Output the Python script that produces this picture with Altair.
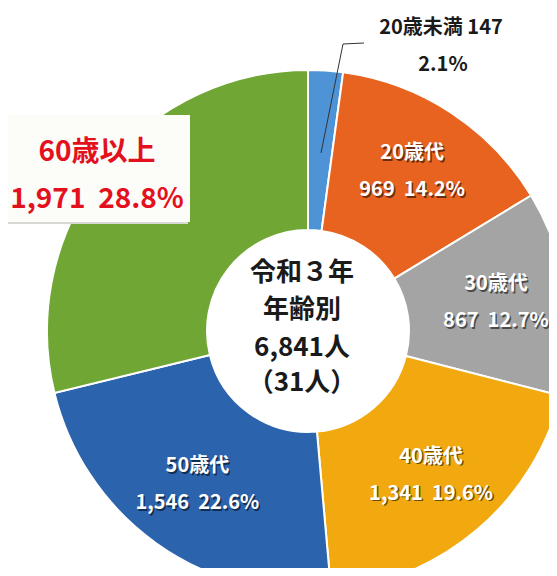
import altair as alt
import pandas as pd

categories = ["20歳未満", "20歳代", "30歳代", "40歳代", "50歳代", "60歳以上"]
counts = [147, 969, 867, 1341, 1546, 1971]
percents = ["2.1%", "14.2%", "12.7%", "19.6%", "22.6%", "28.8%"]
colors = ["#4E93D6", "#E8631F", "#A4A4A4", "#F1A90F", "#2C63AD", "#70A634"]
center_lines = ["令和３年", "年齢別", "6,841人", "（31人）"]

FONT = "Noto Sans CJK JP"
CX, CY = 300, 323
GAP = "\u00a0\u00a0"

outside = {"20歳未満", "60歳以上"}
df = pd.DataFrame({
    "cat": categories,
    "n": counts,
    "pct": percents,
    "order": list(range(len(categories))),
})
df["line1"] = ["" if c in outside else c for c in categories]
df["line2"] = ["" if c in outside else f"{n:,}{GAP}{p}" for c, n, p in zip(categories, counts, percents)]

base = alt.Chart(df).encode(
    theta=alt.Theta("n:Q", stack=True),
    order=alt.Order("order:Q"),
    x=alt.value(CX),
    y=alt.value(CY),
)

arcs = base.mark_arc(outerRadius=261, innerRadius=101, stroke="white", strokeWidth=2).encode(
    color=alt.Color("cat:N", scale=alt.Scale(domain=categories, range=colors), legend=None)
)

def slice_text(field, dy, fill, off=0):
    return base.mark_text(
        radius=190, dy=dy + off, dx=off, font=FONT, fontSize=20, fontWeight="bold", fill=fill
    ).encode(text=f"{field}:N")

shadow1 = slice_text("line1", -19, "rgba(0,0,0,0.55)", 1.5)
shadow2 = slice_text("line2", 18, "rgba(0,0,0,0.55)", 1.5)
text1 = slice_text("line1", -19, "white")
text2 = slice_text("line2", 18, "white")

one = pd.DataFrame({"a": [0]})

box = alt.Chart(one).mark_rect(fill="#FCFCF8").encode(
    x=alt.value(0), x2=alt.value(182), y=alt.value(107), y2=alt.value(214)
)
box_shadow = alt.Chart(one).mark_rect(fill="#D9D9D4").encode(
    x=alt.value(0), x2=alt.value(180), y=alt.value(212), y2=alt.value(216)
)

lead1 = alt.Chart(one).mark_rule(color="#333333", strokeWidth=1).encode(
    x=alt.value(313), y=alt.value(145), x2=alt.value(335), y2=alt.value(36)
)
lead2 = alt.Chart(one).mark_rule(color="#333333", strokeWidth=1).encode(
    x=alt.value(335), y=alt.value(36), x2=alt.value(356), y2=alt.value(35)
)


def label(text, x, y, size, color):
    return alt.Chart(pd.DataFrame({"t": [text]})).mark_text(
        font=FONT, fontSize=size, fontWeight="bold", color=color, baseline="middle"
    ).encode(text="t:N", x=alt.value(x), y=alt.value(y))


i0 = 0
i5 = len(categories) - 1
small1 = label(f"{categories[i0]} {counts[i0]}", 433, 20, 20, "#1a1a1a")
small2 = label(percents[i0], 435, 57, 20, "#1a1a1a")
big1 = label(categories[i5], 89, 145, 28, "#E3101E")
big2 = label(f"{counts[i5]:,}{GAP}{percents[i5]}", 89, 192, 28, "#E3101E")

center_y = [265, 302, 340, 375]
center_marks = [label(t, 294, yy, 26, "#1a1a1a") for t, yy in zip(center_lines, center_y)]

chart = alt.layer(
    arcs, box_shadow, box, lead1, lead2, shadow1, shadow2, text1, text2,
    small1, small2, big1, big2, *center_marks
).properties(
    width=541, height=560, autosize="none", padding=0
).configure_view(stroke=None)

chart.save("out.html", embed_options={"renderer": "svg", "actions": False})
